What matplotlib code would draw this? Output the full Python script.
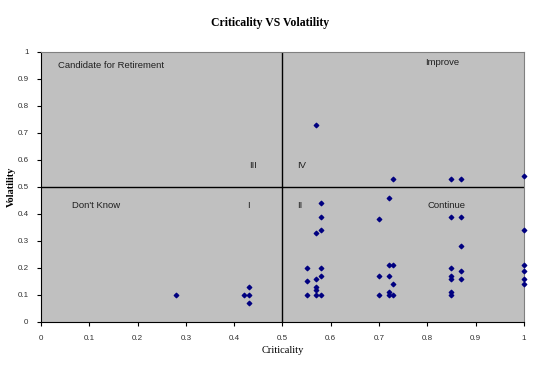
import matplotlib
matplotlib.use("Agg")
import matplotlib.pyplot as plt

# criticality (x) and volatility (y) of each item
criticality = [0.28, 0.43, 0.42, 0.43, 0.43,
               0.58, 0.58, 0.58, 0.57, 0.72, 0.70, 0.85, 0.87, 1.0, 0.87,
               0.55, 0.58, 0.55, 0.57, 0.58, 0.57, 0.57, 0.55, 0.57, 0.58,
               0.72, 0.73, 0.70, 0.72, 0.73, 0.70, 0.72, 0.72, 0.73,
               0.85, 0.87, 0.85, 0.85, 0.87, 0.85, 0.85,
               1.0, 1.0, 1.0, 1.0,
               0.57, 0.73, 0.85, 0.87, 1.0]
volatility = [0.10, 0.13, 0.10, 0.10, 0.07,
              0.44, 0.39, 0.34, 0.33, 0.46, 0.38, 0.39, 0.39, 0.34, 0.28,
              0.20, 0.20, 0.15, 0.16, 0.17, 0.13, 0.12, 0.10, 0.10, 0.10,
              0.21, 0.21, 0.17, 0.17, 0.14, 0.10, 0.11, 0.10, 0.10,
              0.20, 0.19, 0.17, 0.16, 0.16, 0.11, 0.10,
              0.21, 0.19, 0.16, 0.14,
              0.73, 0.53, 0.53, 0.53, 0.54]

ticks = [0, 0.1, 0.2, 0.3, 0.4, 0.5, 0.6, 0.7, 0.8, 0.9, 1]
tick_labels = ["0", "0.1", "0.2", "0.3", "0.4", "0.5", "0.6", "0.7", "0.8", "0.9", "1"]

quadrant_labels = [("Candidate for Retirement", 0.035, 0.95, "left"),
                   ("Improve", 0.83, 0.96, "center"),
                   ("III", 0.44, 0.58, "center"),
                   ("IV", 0.53, 0.58, "left"),
                   ("Don't Know", 0.065, 0.43, "left"),
                   ("I", 0.43, 0.43, "center"),
                   ("II", 0.53, 0.43, "left"),
                   ("Continue", 0.84, 0.43, "center")]

fig = plt.figure(figsize=(5.4, 3.68), dpi=100)
ax = fig.add_axes([0.076, 0.125, 0.894, 0.734])
ax.set_facecolor("#c0c0c0")

ax.scatter(criticality, volatility, marker="D", s=5, color="#000080", zorder=3, clip_on=False)
ax.axvline(0.5, color="black", lw=1)
ax.axhline(0.5, color="black", lw=1)

for txt, x, y, ha in quadrant_labels:
    ax.text(x, y, txt, ha=ha, va="center", fontsize=6.8, family="Liberation Sans", color="#202020")

ax.set_xlim(0, 1)
ax.set_ylim(0, 1)
ax.set_xticks(ticks)
ax.set_xticklabels(tick_labels)
ax.set_yticks(ticks)
ax.set_yticklabels(tick_labels)
ax.tick_params(labelsize=5.8, length=3, width=0.8, pad=6)
for lbl in ax.get_xticklabels() + ax.get_yticklabels():
    lbl.set_family("Liberation Sans")
    lbl.set_color("#303030")

for side in ["top", "right"]:
    ax.spines[side].set_color("#808080")
for side in ["left", "bottom"]:
    ax.spines[side].set_color("black")

ax.set_xlabel("Criticality", family="Liberation Serif", fontsize=7.5, labelpad=3)
ax.set_ylabel("Volatility", family="Liberation Serif", fontsize=7.5, fontweight="bold", labelpad=1)
fig.suptitle("Criticality VS Volatility", family="Liberation Serif", fontsize=8.5, fontweight="bold", y=0.955)

fig.savefig("out.png", dpi=100)
